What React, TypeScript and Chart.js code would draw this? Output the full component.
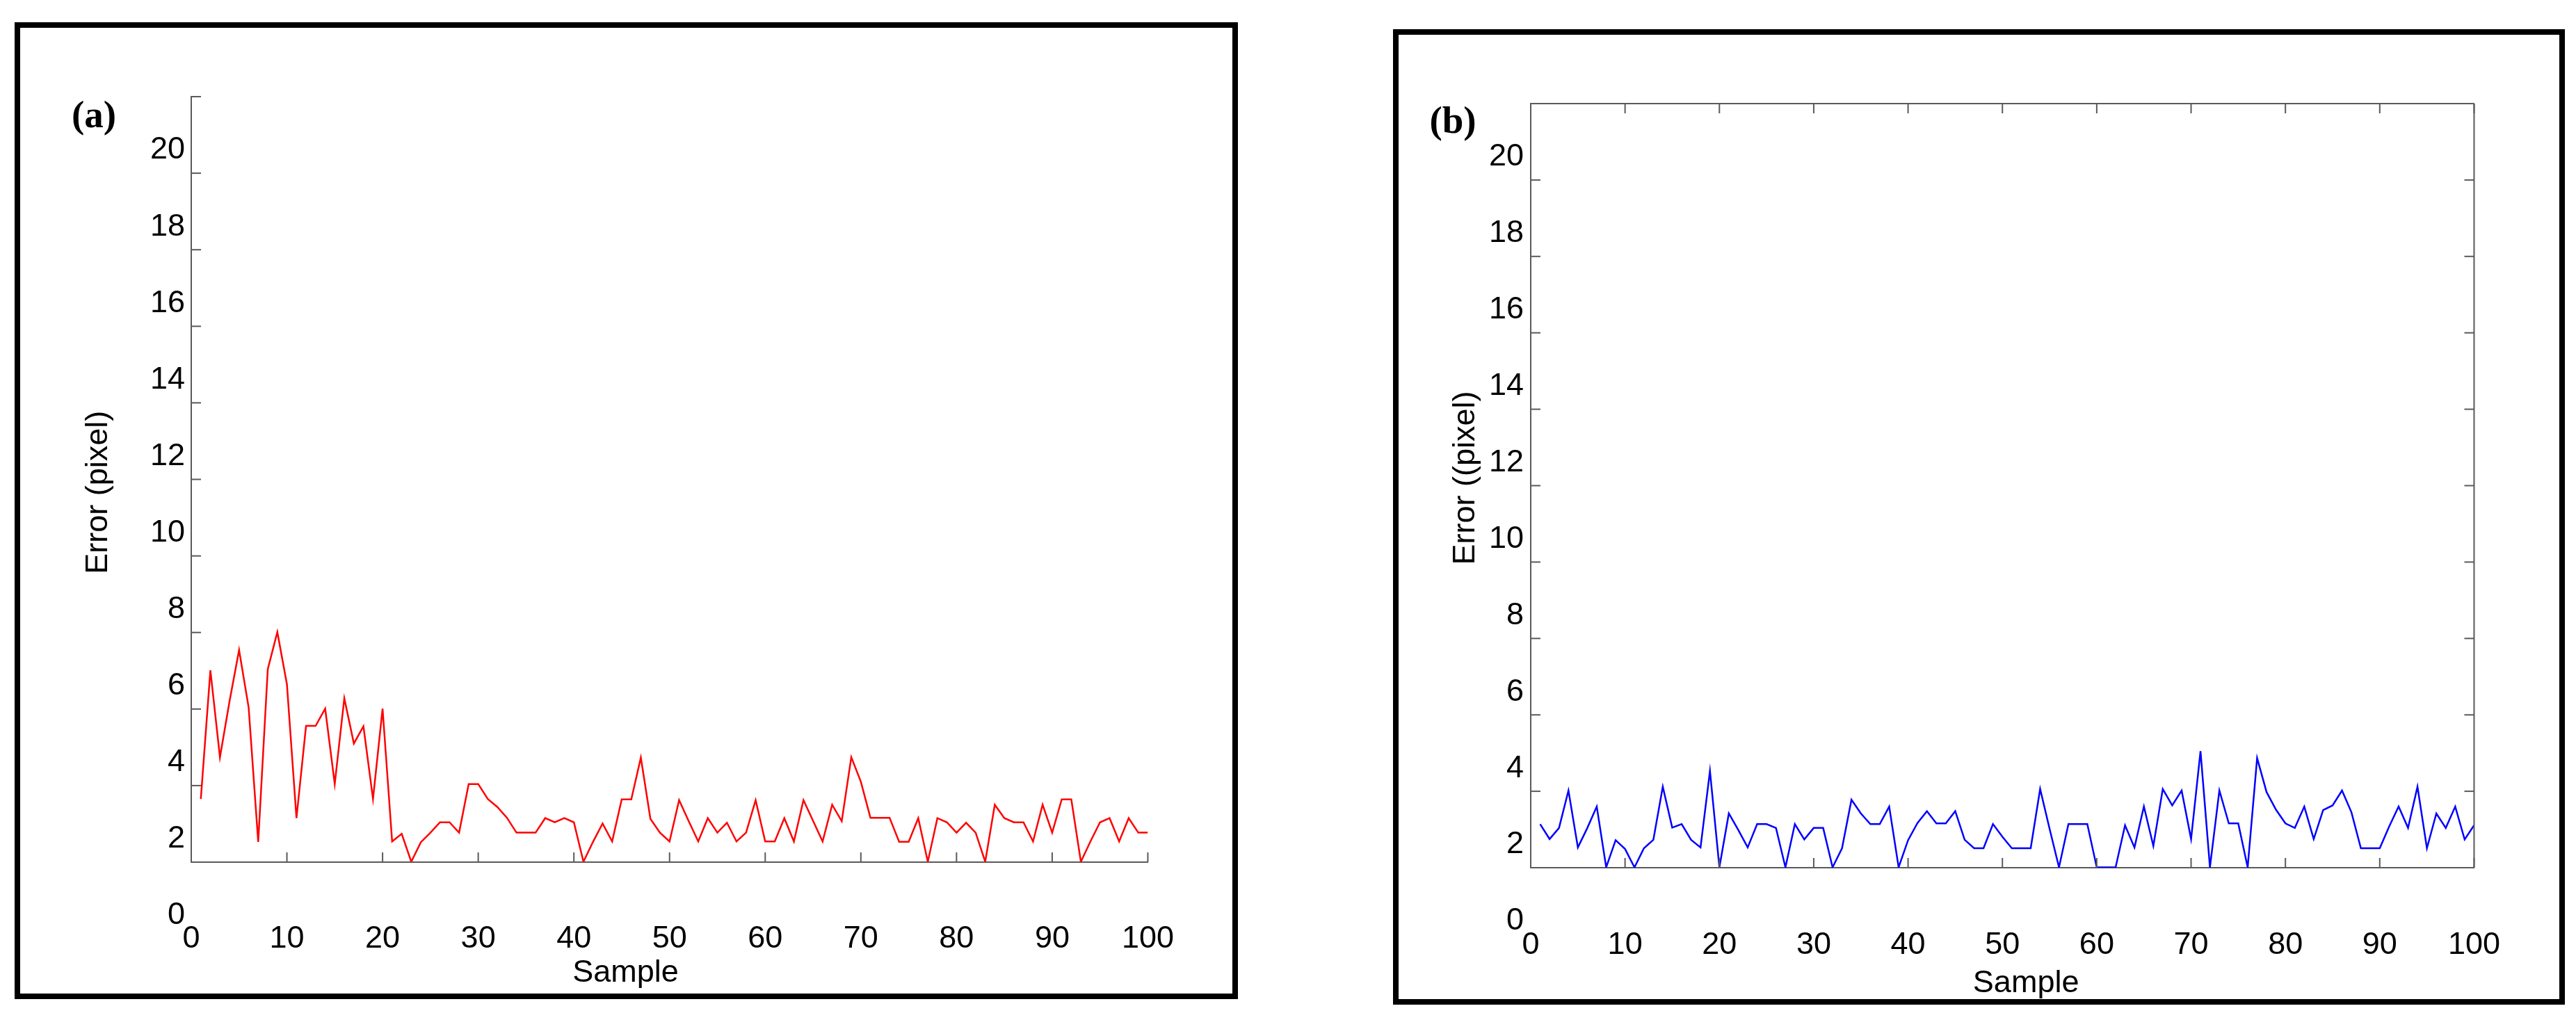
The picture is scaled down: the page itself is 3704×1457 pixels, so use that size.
import React, { useEffect, useRef } from 'react';
import { Chart, registerables } from 'chart.js';

Chart.register(...registerables);

// sample index on the x axis
const samples = Array.from({ length: 100 }, (_, i) => i + 1);

// (a) error per sample, red curve
const errorA = [
  3.05, 6.41, 4.14, 5.6, 6.94, 5.44, 1.93, 6.44, 7.41, 6.05,
  2.55, 4.96, 4.96, 5.41, 3.44, 5.68, 4.5, 4.95, 3.05, 5.41,
  1.94, 2.14, 1.41, 1.92, 2.17, 2.44, 2.44, 2.17, 3.44, 3.44,
  3.05, 2.84, 2.56, 2.17, 2.17, 2.17, 2.55, 2.44, 2.55, 2.44,
  1.41, 1.93, 2.41, 1.94, 3.04, 3.04, 4.13, 2.53, 2.17, 1.94,
  3.02, 2.47, 1.94, 2.55, 2.17, 2.43, 1.94, 2.17, 3.02, 1.94,
  1.94, 2.55, 1.94, 3.02, 2.48, 1.94, 2.9, 2.47, 4.14, 3.5,
  2.56, 2.56, 2.56, 1.93, 1.93, 2.55, 1.41, 2.55, 2.44, 2.17,
  2.43, 2.17, 1.41, 2.9, 2.55, 2.44, 2.44, 1.94, 2.9, 2.17,
  3.04, 3.04, 1.41, 1.94, 2.44, 2.55, 1.94, 2.55, 2.17, 2.17,
];

// (b) error per sample, blue curve
const errorB = [
  2.54, 2.15, 2.44, 3.42, 1.93, 2.44, 3.0, 1.41, 2.12, 1.89,
  1.41, 1.91, 2.13, 3.52, 2.45, 2.54, 2.13, 1.93, 3.93, 1.41,
  2.82, 2.39, 1.93, 2.54, 2.54, 2.44, 1.41, 2.54, 2.14, 2.44,
  2.44, 1.41, 1.91, 3.18, 2.82, 2.54, 2.54, 3.0, 1.41, 2.12,
  2.57, 2.88, 2.56, 2.56, 2.88, 2.13, 1.91, 1.91, 2.54, 2.21,
  1.91, 1.91, 1.91, 3.46, 2.42, 1.41, 2.54, 2.54, 2.54, 1.41,
  1.41, 1.41, 2.51, 1.93, 3.0, 1.97, 3.46, 3.03, 3.42, 2.15,
  4.45, 1.41, 3.42, 2.56, 2.56, 1.41, 4.27, 3.38, 2.92, 2.56,
  2.44, 3.0, 2.15, 2.91, 3.03, 3.42, 2.85, 1.91, 1.91, 1.91,
  2.48, 3.0, 2.44, 3.52, 1.91, 2.82, 2.44, 3.0, 2.14, 2.51,
];

// tick marks sit 0.6 below the printed labels, as in the original figure
const xTickValues = [0, 10, 20, 30, 40, 50, 60, 70, 80, 90, 100];
const yTickMarks = [1.4, 3.4, 5.4, 7.4, 9.4, 11.4, 13.4, 15.4, 17.4, 19.4, 21.4];
const yTickLabels = [0, 2, 4, 6, 8, 10, 12, 14, 16, 18, 20];

const SANS = '"Liberation Sans", Arial, Helvetica, sans-serif';
const SERIF = '"Liberation Serif", "Times New Roman", serif';
const AXIS_COLOR = '#5a5a5a';
const TICK_LEN = 14;

interface PanelSpec {
  tag: string;
  yTitle: string;
  color: string;
  values: number[];
  box: boolean;
  frame: { left: number; top: number; width: number; height: number };
  area: { left: number; top: number; right: number; bottom: number };
  tagDx: number;
  tagDy: number;
  yTitleDx: number;
  yTitleAt: number;
  yLabelGap: number;
  xLabelPad: number;
  xTitleAt: number;
  xTitleDrop: number;
}

const BORDER = 8;

const panels: PanelSpec[] = [
  {
    tag: '(a)',
    yTitle: 'Error (pixel)',
    color: '#ff0000',
    values: errorA,
    box: false,
    frame: { left: 13, top: 24, width: 1759, height: 1405 },
    area: { left: 246, top: 99, right: 1641, bottom: 1200 },
    tagDx: 140,
    tagDy: 44,
    yTitleDx: 133,
    yTitleAt: 11.06,
    yLabelGap: 9,
    xLabelPad: 84,
    xTitleAt: 45.4,
    xTitleDrop: 160,
  },
  {
    tag: '(b)',
    yTitle: 'Error ((pixel)',
    color: '#0000ff',
    values: errorB,
    box: true,
    frame: { left: 1995, top: 34, width: 1685, height: 1403 },
    area: { left: 190, top: 99, right: 1585, bottom: 1198 },
    tagDx: 112,
    tagDy: 42,
    yTitleDx: 93,
    yTitleAt: 11.6,
    yLabelGap: 10,
    xLabelPad: 85,
    xTitleAt: 52.5,
    xTitleDrop: 167,
  },
];

// draws the MATLAB-style inward ticks, shifted y labels, titles and panel tag
const makeAxesPlugin = (p: PanelSpec) => ({
  id: 'figAxes',
  afterDraw(chart: Chart) {
    const { ctx, chartArea } = chart;
    const x = chart.scales.x;
    const y = chart.scales.y;
    const { left, right, top, bottom } = chartArea;

    ctx.save();
    ctx.strokeStyle = AXIS_COLOR;
    ctx.lineWidth = 2;
    const line = (x1: number, y1: number, x2: number, y2: number) => {
      ctx.beginPath();
      ctx.moveTo(x1, y1);
      ctx.lineTo(x2, y2);
      ctx.stroke();
    };

    if (p.box) {
      line(left, top, right, top);
      line(right, top, right, bottom);
    }
    yTickMarks.forEach((v) => {
      const py = y.getPixelForValue(v);
      line(left, py, left + TICK_LEN, py);
      if (p.box) line(right, py, right - TICK_LEN, py);
    });
    xTickValues.forEach((v) => {
      const px = x.getPixelForValue(v);
      line(px, bottom, px, bottom - TICK_LEN);
      if (p.box) line(px, top, px, top + TICK_LEN);
    });

    ctx.fillStyle = '#000';
    ctx.font = `45px ${SANS}`;
    ctx.textAlign = 'right';
    ctx.textBaseline = 'middle';
    yTickLabels.forEach((v) => {
      ctx.fillText(String(v), left - p.yLabelGap, y.getPixelForValue(v));
    });

    ctx.textAlign = 'center';
    ctx.fillText('Sample', x.getPixelForValue(p.xTitleAt), bottom + p.xTitleDrop);

    ctx.save();
    ctx.translate(left - p.yTitleDx, y.getPixelForValue(p.yTitleAt));
    ctx.rotate(-Math.PI / 2);
    ctx.fillText(p.yTitle, 0, 0);
    ctx.restore();

    ctx.font = `bold 55px ${SERIF}`;
    ctx.textBaseline = 'alphabetic';
    ctx.fillText(p.tag, left - p.tagDx, top + p.tagDy);
    ctx.restore();
  },
});

const Panel: React.FC<{ spec: PanelSpec }> = ({ spec }) => {
  const canvasRef = useRef<HTMLCanvasElement>(null);

  useEffect(() => {
    if (!canvasRef.current) return;
    const innerW = spec.frame.width - 2 * BORDER;
    const innerH = spec.frame.height - 2 * BORDER;
    const chart = new Chart(canvasRef.current, {
      type: 'line',
      data: {
        datasets: [
          {
            data: samples.map((s, i) => ({ x: s, y: spec.values[i] })),
            borderColor: spec.color,
            borderWidth: 2.5,
            pointRadius: 0,
            fill: false,
            tension: 0,
          },
        ],
      },
      options: {
        animation: false,
        responsive: true,
        maintainAspectRatio: false,
        events: [],
        layout: {
          padding: { left: 0, top: spec.area.top, right: innerW - spec.area.right, bottom: 0 },
        },
        plugins: {
          legend: { display: false },
          tooltip: { enabled: false },
        },
        scales: {
          x: {
            type: 'linear',
            min: 0,
            max: 100,
            afterFit: (s: any) => {
              s.height = innerH - spec.area.bottom;
            },
            ticks: {
              stepSize: 10,
              autoSkip: false,
              maxRotation: 0,
              padding: spec.xLabelPad,
              color: '#000',
              font: { family: SANS, size: 45 },
            },
            grid: { display: false, drawTicks: false },
            border: { display: true, color: AXIS_COLOR, width: 2 },
          },
          y: {
            type: 'linear',
            min: 1.4,
            max: 21.4,
            afterFit: (s: any) => {
              s.width = spec.area.left;
            },
            ticks: { display: false },
            grid: { display: false, drawTicks: false },
            border: { display: true, color: AXIS_COLOR, width: 2 },
          },
        },
      },
      plugins: [makeAxesPlugin(spec)],
    });
    return () => chart.destroy();
  }, [spec]);

  return (
    <div
      style={{
        position: 'absolute',
        left: spec.frame.left,
        top: spec.frame.top,
        width: spec.frame.width,
        height: spec.frame.height,
        border: `${BORDER}px solid #000`,
        boxSizing: 'border-box',
        background: '#fff',
      }}
    >
      <div style={{ position: 'relative', width: '100%', height: '100%' }}>
        <canvas ref={canvasRef}></canvas>
      </div>
    </div>
  );
};

export default function App() {
  return (
    <div style={{ position: 'relative', width: 3704, height: 1457 }}>
      {panels.map((p) => (
        <Panel key={p.tag} spec={p} />
      ))}
    </div>
  );
}
